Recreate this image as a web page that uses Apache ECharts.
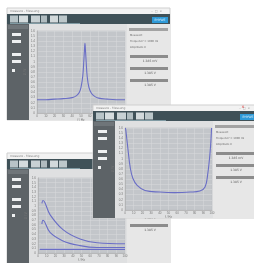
<!DOCTYPE html>
<html>
<head>
<meta charset="utf-8">
<script src="https://cdn.jsdelivr.net/npm/echarts@6/dist/echarts.min.js"></script>
<style>
html, body { margin: 0; padding: 0; background: #fff; }
#main { width: 254px; height: 263px; }
</style>
</head>
<body>
<div id="main"></div>
<script>
// window 1: resonance curve
var resonanceX = [0, 10, 20, 30, 40, 45, 48, 50, 52, 53, 54, 54.5, 55, 56, 57, 59, 62, 66, 70, 80, 90, 100];
var resonanceY = [0.26, 0.26, 0.27, 0.28, 0.3, 0.34, 0.4, 0.5, 0.72, 0.96, 1.25, 1.36, 1.25, 0.96, 0.72, 0.5, 0.38, 0.32, 0.29, 0.27, 0.26, 0.26];
// window 2: U-shaped curve
var troughX = [0.5, 1, 3.5, 6, 9, 14, 23, 40, 57, 75, 86, 92, 95, 98, 99.5];
var troughY = [1.6, 1.55, 1.17, 0.83, 0.62, 0.48, 0.38, 0.35, 0.34, 0.35, 0.37, 0.45, 0.69, 1.17, 1.6];
// window 3: decay curves
var decayX = [4.5, 5.7, 13.8, 28.7, 48.3, 67.8, 100];
var decayUpper = [1.06, 1.12, 0.82, 0.5, 0.3, 0.22, 0.2];
var decayLower = [0.62, 0.7, 0.44, 0.26, 0.16, 0.12, 0.12];
var baseX = [2, 100];
var baseY = [0.08, 0.08];
var panelLabels = ['Messwert', 'Frequenz f = 1000 Hz', 'Amplitude U'];
var panelValues = ['1.385 mV', '1.385 V', '1.385 V'];
var lineColor = '#6a6ec6';

function pairs(xs, ys) {
  return xs.map(function (x, i) { return [x, ys[i]]; });
}

function windowGraphics(x, y, w, h, layer) {
  var els = [];
  function rect(rx, ry, rw, rh, fill, extra) {
    var o = { type: 'rect', zlevel: layer, z: 0, shape: { x: rx, y: ry, width: rw, height: rh }, style: { fill: fill } };
    if (extra) o.style.stroke = extra;
    els.push(o);
  }
  function text(tx, ty, t, size, color, align) {
    els.push({ type: 'text', zlevel: layer, z: 1, x: tx, y: ty,
      style: { text: t, fontSize: size, fill: color, fontFamily: 'DejaVu Sans', align: align || 'left', verticalAlign: 'middle' } });
  }
  rect(x, y, w, h, '#f2f2f2', '#cfcfcf');
  text(x + 3, y + 3, 'measure - Messung', 3, '#888');
  text(x + w - 8, y + 3, '\u2013  \u25a1  \u00d7', 3, '#999', 'right');
  // toolbar
  rect(x, y + 6, w, 10, '#3f5158');
  rect(x + 3, y + 7.5, 8, 7, '#b8c4c8');
  rect(x + 12, y + 7.5, 9, 7, '#d5dcde');
  rect(x + 24, y + 7.5, 9, 7, '#c8d1d4');
  rect(x + 34, y + 7.5, 6, 7, '#b0bcc0');
  rect(x + 43, y + 7.5, 8, 7, '#d2d9db');
  rect(x + 52, y + 7.5, 8, 7, '#bcc7ca');
  rect(x + 3, y + 15, 70, 1.5, '#7f9aa3');
  rect(x + w - 18, y + 9, 16, 6, '#2f9ad8');
  text(x + w - 10, y + 12, 'PHYWE', 3, '#e8f4fb', 'center');
  // sidebar
  rect(x, y + 16, 22, h - 16, '#5d6367');
  rect(x + 1, y + 17, 20, 4, '#6f7579');
  [9, 16, 29, 36, 45].forEach(function (dy, i) {
    rect(x + 5, y + 16 + dy, i === 4 ? 3 : 9, 3, '#eef0f1');
  });
  // chart panel
  rect(x + 22, y + 16, 98, h - 16, '#dfe0e1');
  // right panel
  rect(x + 120, y + 16, w - 120, h - 16, '#e7e7e7');
  rect(x + 122, y + 20, Math.min(39, w - 124), 3, '#a3a3a3');
  panelLabels.forEach(function (t, i) {
    text(x + 123, y + 27 + i * 6, t, 2.6, '#666');
  });
  panelValues.forEach(function (t, i) {
    rect(x + 123, y + 47 + i * 12, Math.min(38, w - 125), 3, '#8c8c8c');
    text(x + 143, y + 53 + i * 12, t, 3, '#555', 'center');
  });
  return els;
}

function grid(left, top, width, height, layer) {
  return { left: left, top: top, width: width, height: height, show: true,
    backgroundColor: '#c3c6ca', borderColor: '#b5b8bc', borderWidth: 0.5, zlevel: layer, z: 3 };
}
function xAxis(idx, layer) {
  return { type: 'value', gridIndex: idx, min: 0, max: 100, interval: 10, zlevel: layer, z: 3,
    axisLine: { lineStyle: { color: '#999', width: 0.5 } }, axisTick: { show: false },
    axisLabel: { fontSize: 3, color: '#777', margin: 2 },
    splitLine: { lineStyle: { color: '#d9dbdd', width: 0.5 } },
    name: 'f / Hz', nameLocation: 'middle', nameGap: 5, nameTextStyle: { fontSize: 3, color: '#777' } };
}
function yAxis(idx, layer) {
  return { type: 'value', gridIndex: idx, min: 0, max: 1.6, interval: 0.1, zlevel: layer, z: 3,
    axisLine: { lineStyle: { color: '#999', width: 0.5 } }, axisTick: { show: false },
    axisLabel: { fontSize: 3, color: '#777', margin: 2 },
    splitLine: { lineStyle: { color: '#d9dbdd', width: 0.5 } },
    name: 'U / V', nameLocation: 'middle', nameGap: 6, nameTextStyle: { fontSize: 3, color: '#777' } };
}
function line(idx, layer, data) {
  return { type: 'line', xAxisIndex: idx, yAxisIndex: idx, data: data, smooth: 0.4, showSymbol: false,
    zlevel: layer, z: 4, lineStyle: { color: lineColor, width: 1.1 }, itemStyle: { color: lineColor } };
}

var myChart = echarts.init(document.getElementById('main'));
var option = {
  animation: false,
  graphic: { elements: []
    .concat(windowGraphics(7, 8, 163, 112, 0))
    .concat(windowGraphics(7, 153, 163, 115, 1))
    .concat(windowGraphics(93, 105, 165, 113, 2))
    .concat([{ type: 'text', zlevel: 2, z: 2, x: 243, y: 107,
      style: { text: '\u00d7', fontSize: 4, fill: '#d33', fontFamily: 'DejaVu Sans', align: 'center', verticalAlign: 'middle' } }]) },
  grid: [grid(37, 31, 88, 82, 0), grid(125, 128, 87, 82, 2), grid(38, 178, 87, 80, 1)],
  xAxis: [xAxis(0, 0), xAxis(1, 2), xAxis(2, 1)],
  yAxis: [yAxis(0, 0), yAxis(1, 2), yAxis(2, 1)],
  series: [
    line(0, 0, pairs(resonanceX, resonanceY)),
    line(1, 2, pairs(troughX, troughY)),
    line(2, 1, pairs(decayX, decayUpper)),
    line(2, 1, pairs(decayX, decayLower)),
    line(2, 1, pairs(baseX, baseY))
  ]
};
myChart.setOption(option);
</script>
</body>
</html>
